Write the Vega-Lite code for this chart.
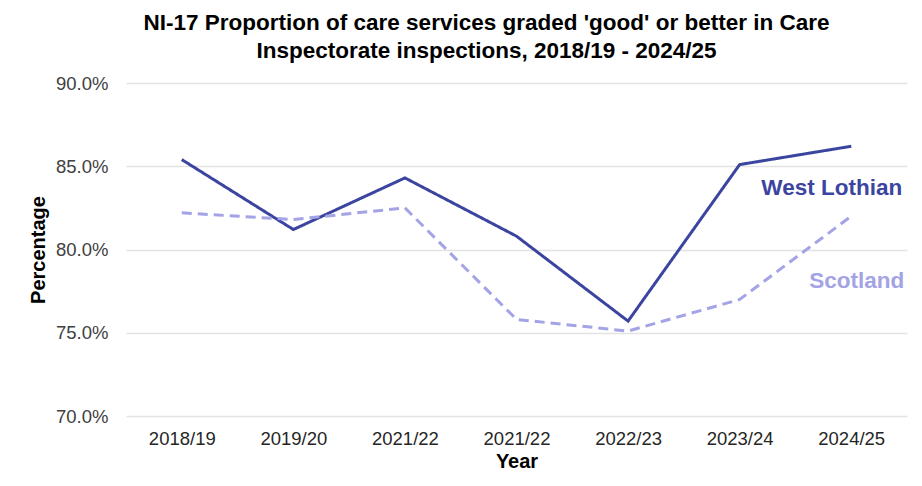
{
  "$schema": "https://vega.github.io/schema/vega-lite/v6.json",
  "width": 781,
  "height": 333,
  "autosize": "none",
  "padding": {"left": 126, "top": 83, "right": 15, "bottom": 70},
  "background": "white",
  "title": {
    "text": ["NI-17 Proportion of care services graded 'good' or better in Care", "Inspectorate inspections, 2018/19 - 2024/25"],
    "font": "Liberation Sans",
    "fontSize": 22.5,
    "fontWeight": "bold",
    "color": "#000000",
    "lineHeight": 28,
    "anchor": "middle",
    "dx": -30,
    "offset": 12
  },
  "data": {
    "values": [
      {"Year": "2018/19", "Series": "West Lothian", "Value": 85.4},
      {"Year": "2019/20", "Series": "West Lothian", "Value": 81.2},
      {"Year": "2021/22", "Series": "West Lothian", "Value": 84.3},
      {"Year": "2021/22 ", "Series": "West Lothian", "Value": 80.8},
      {"Year": "2022/23", "Series": "West Lothian", "Value": 75.7},
      {"Year": "2023/24", "Series": "West Lothian", "Value": 85.1},
      {"Year": "2024/25", "Series": "West Lothian", "Value": 86.2},
      {"Year": "2018/19", "Series": "Scotland", "Value": 82.2},
      {"Year": "2019/20", "Series": "Scotland", "Value": 81.8},
      {"Year": "2021/22", "Series": "Scotland", "Value": 82.5},
      {"Year": "2021/22 ", "Series": "Scotland", "Value": 75.8},
      {"Year": "2022/23", "Series": "Scotland", "Value": 75.1},
      {"Year": "2023/24", "Series": "Scotland", "Value": 77.0},
      {"Year": "2024/25", "Series": "Scotland", "Value": 82.0}
    ]
  },
  "encoding": {
    "x": {
      "field": "Year",
      "type": "ordinal",
      "sort": ["2018/19", "2019/20", "2021/22", "2021/22 ", "2022/23", "2023/24", "2024/25"],
      "scale": {"type": "point", "padding": 0.5},
      "axis": {
        "title": "Year",
        "titleFont": "Liberation Sans",
        "titleFontSize": 20,
        "titleFontWeight": "bold",
        "titleColor": "#000000",
        "titlePadding": 4,
        "labelFont": "Liberation Sans",
        "labelFontSize": 18.5,
        "labelColor": "#262626",
        "labelAngle": 0,
        "labelPadding": 13,
        "ticks": false,
        "domain": false,
        "grid": false
      }
    },
    "y": {
      "field": "Value",
      "type": "quantitative",
      "scale": {"domain": [70, 90], "nice": false, "zero": false},
      "axis": {
        "title": "Percentage",
        "titleFont": "Liberation Sans",
        "titleFontSize": 20,
        "titleFontWeight": "bold",
        "titleColor": "#000000",
        "titlePadding": 7,
        "values": [70, 75, 80, 85, 90],
        "labelExpr": "format(datum.value, '.1f') + '%'",
        "labelFont": "Liberation Sans",
        "labelFontSize": 18.5,
        "labelColor": "#404040",
        "labelPadding": 18,
        "ticks": false,
        "domain": false,
        "grid": true,
        "gridColor": "#e3e3e3",
        "gridWidth": 1.5
      }
    }
  },
  "layer": [
    {
      "mark": {"type": "line", "strokeWidth": 3},
      "encoding": {
        "color": {
          "field": "Series",
          "type": "nominal",
          "scale": {"domain": ["West Lothian", "Scotland"], "range": ["#3b45a0", "#a3a3e6"]},
          "legend": null
        },
        "strokeDash": {
          "field": "Series",
          "type": "nominal",
          "scale": {"domain": ["West Lothian", "Scotland"], "range": [[1, 0], [10, 6]]},
          "legend": null
        }
      }
    },
    {
      "transform": [{"filter": "datum.Year == '2024/25' && datum.Series == 'West Lothian'"}],
      "mark": {"type": "text", "align": "right", "baseline": "middle", "dx": 51, "dy": 42, "font": "Liberation Sans", "fontSize": 22.5, "fontWeight": "bold", "color": "#3b45a0"},
      "encoding": {"text": {"field": "Series"}}
    },
    {
      "transform": [{"filter": "datum.Year == '2024/25' && datum.Series == 'Scotland'"}],
      "mark": {"type": "text", "align": "right", "baseline": "middle", "dx": 53, "dy": 65, "font": "Liberation Sans", "fontSize": 22.5, "fontWeight": "bold", "color": "#a3a3e6"},
      "encoding": {"text": {"field": "Series"}}
    }
  ],
  "config": {"view": {"stroke": null}}
}
